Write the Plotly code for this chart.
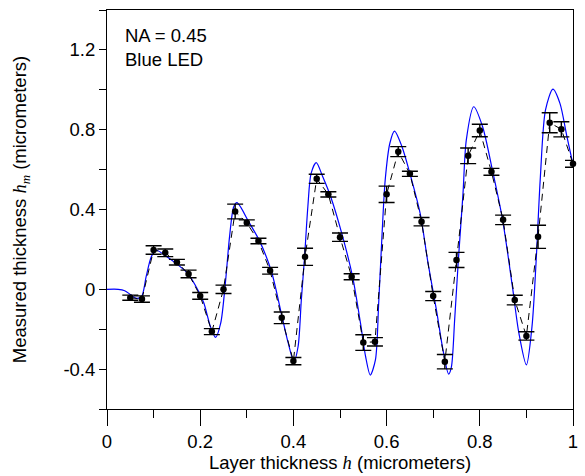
import plotly.graph_objects as go

# Measured thickness at each layer thickness (micrometers), with error bars
layer_h = [0.050, 0.075, 0.100, 0.125, 0.150, 0.175, 0.200, 0.225, 0.250, 0.275,
           0.300, 0.325, 0.350, 0.375, 0.400, 0.425, 0.450, 0.475, 0.500, 0.525,
           0.550, 0.575, 0.600, 0.625, 0.650, 0.675, 0.700, 0.725, 0.750, 0.775,
           0.800, 0.825, 0.850, 0.875, 0.900, 0.925, 0.950, 0.975, 1.000]
measured_hm = [-0.042, -0.049, 0.197, 0.183, 0.136, 0.077, -0.033, -0.212, 0.000, 0.390,
               0.333, 0.242, 0.093, -0.143, -0.360, 0.163, 0.554, 0.476, 0.261, 0.063,
               -0.267, -0.263, 0.476, 0.690, 0.579, 0.339, -0.034, -0.363, 0.147, 0.669,
               0.796, 0.589, 0.348, -0.054, -0.234, 0.263, 0.835, 0.802, 0.629]
measured_err = [0.013, 0.016, 0.021, 0.019, 0.014, 0.019, 0.017, 0.015, 0.021, 0.037,
                0.015, 0.014, 0.017, 0.029, 0.018, 0.043, 0.023, 0.013, 0.021, 0.015,
                0.039, 0.021, 0.041, 0.025, 0.013, 0.021, 0.023, 0.036, 0.038, 0.039,
                0.031, 0.017, 0.024, 0.024, 0.021, 0.058, 0.050, 0.038, 0.017]

# Simulated response curve (sampled)
model_h = [0.000, 0.024, 0.038, 0.052, 0.063, 0.074, 0.084, 0.095, 0.105, 0.123,
           0.148, 0.173, 0.197, 0.208, 0.222, 0.233, 0.244, 0.254, 0.263, 0.272,
           0.279, 0.304, 0.328, 0.353, 0.374, 0.389, 0.401, 0.410, 0.417, 0.424,
           0.431, 0.438, 0.449, 0.463, 0.480, 0.505, 0.527, 0.544, 0.555, 0.565,
           0.576, 0.583, 0.590, 0.597, 0.607, 0.617, 0.633, 0.650, 0.672, 0.689,
           0.707, 0.721, 0.733, 0.739, 0.746, 0.754, 0.764, 0.771, 0.787, 0.806,
           0.827, 0.849, 0.870, 0.884, 0.900, 0.912, 0.921, 0.930, 0.941, 0.957,
           0.972, 0.987, 1.000]
model_hm = [0.000, 0.000, -0.007, -0.029, -0.045, -0.037, 0.063, 0.163, 0.197, 0.172,
            0.130, 0.080, -0.012, -0.070, -0.187, -0.241, -0.170, 0.030, 0.264, 0.414,
            0.434, 0.339, 0.239, 0.088, -0.120, -0.270, -0.363, -0.288, -0.054, 0.163,
            0.414, 0.581, 0.635, 0.564, 0.464, 0.270, 0.063, -0.170, -0.338, -0.430,
            -0.354, -0.070, 0.264, 0.548, 0.732, 0.793, 0.715, 0.581, 0.381, 0.130,
            -0.104, -0.304, -0.425, -0.390, -0.154, 0.147, 0.481, 0.748, 0.915, 0.815,
            0.598, 0.347, 0.013, -0.221, -0.379, -0.187, 0.147, 0.564, 0.899, 1.003,
            0.932, 0.765, 0.625]

x_ticks = [0, 0.2, 0.4, 0.6, 0.8, 1.0]
x_ticktext = ["0", "0.2", "0.4", "0.6", "0.8", "1"]
x_minor_ticks = [0.1, 0.3, 0.5, 0.7, 0.9]
y_ticks = [-0.4, 0.0, 0.4, 0.8, 1.2]
y_ticktext = ["-0.4", "0", "0.4", "0.8", "1.2"]
y_minor_ticks = [-0.6, -0.2, 0.2, 0.6, 1.0, 1.4]

FONT = "Liberation Sans, Arial, sans-serif"
SERIF_I = "<span style=\"font-family:'Liberation Serif', 'Times New Roman', serif\"><i>{}</i></span>"

fig = go.Figure()

fig.add_trace(go.Scatter(
    x=model_h, y=model_hm, mode="lines",
    line=dict(color="#0000ff", width=1.2, shape="spline", smoothing=0.8),
    showlegend=False, hoverinfo="skip",
))

fig.add_trace(go.Scatter(
    x=layer_h, y=measured_hm, mode="lines+markers",
    line=dict(color="black", width=1, dash="7px,5px"),
    marker=dict(color="black", size=6.5),
    error_y=dict(type="data", array=measured_err, visible=True,
                 color="black", thickness=1.4, width=8),
    cliponaxis=False, showlegend=False,
))

fig.add_annotation(
    x=0.035, y=1.335, xref="x", yref="y", xanchor="left", yanchor="top",
    text="NA = 0.45<br>Blue LED", showarrow=False, align="left",
    font=dict(family=FONT, size=18.5, color="black"),
)

fig.update_layout(
    width=585, height=476, autosize=False,
    margin=dict(l=107, r=7, t=10, b=67),
    paper_bgcolor="white", plot_bgcolor="white",
    font=dict(family=FONT, size=18.5, color="black"),
    xaxis=dict(
        range=[0, 1], tickvals=x_ticks, ticktext=x_ticktext,
        ticks="outside", ticklen=16, tickwidth=1, tickcolor="black",
        minor=dict(tickvals=x_minor_ticks, ticks="outside", ticklen=8,
                   tickwidth=1, tickcolor="black", showgrid=False),
        showline=True, linecolor="black", linewidth=1, mirror=True,
        showgrid=False, zeroline=False,
        title=dict(text="Layer thickness " + SERIF_I.format("h") + " (micrometers)",
                   standoff=2, font=dict(size=18.5)),
    ),
    yaxis=dict(
        range=[-0.6, 1.4], tickvals=y_ticks, ticktext=y_ticktext,
        ticks="outside", ticklen=7, tickwidth=1, tickcolor="black",
        minor=dict(tickvals=y_minor_ticks, ticks="outside", ticklen=7,
                   tickwidth=1, tickcolor="black", showgrid=False),
        showline=True, linecolor="black", linewidth=1, mirror=True,
        showgrid=False, zeroline=False,
        title=dict(text="Measured thickness " + SERIF_I.format("h<sub>m</sub>") + " (micrometers)",
                   standoff=31, font=dict(size=18.5)),
    ),
)

fig.write_html("out.html")
